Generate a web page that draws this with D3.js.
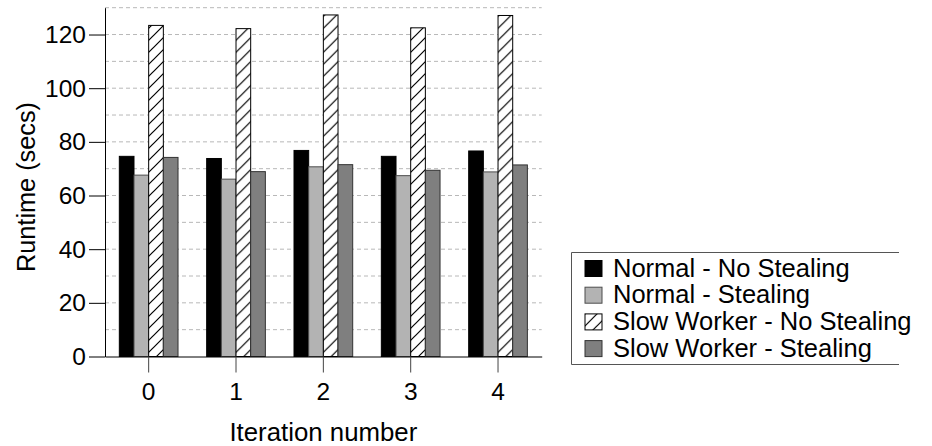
<!DOCTYPE html>
<html>
<head>
<meta charset="utf-8">
<script src="https://cdn.jsdelivr.net/npm/d3@7"></script>
<style>
  html, body { margin: 0; padding: 0; background: #fff; }
  svg { display: block; font-family: "Liberation Sans", Arial, Helvetica, sans-serif; }
  .grid line { stroke: #b8b8b8; stroke-dasharray: 4,3; }
</style>
</head>
<body>
<svg id="chart" width="932" height="446"></svg>
<script>
// Runtime per iteration, four configurations
const iterations = ["0", "1", "2", "3", "4"];
const seriesNames = [
  "Normal - No Stealing",
  "Normal - Stealing",
  "Slow Worker - No Stealing",
  "Slow Worker - Stealing",
];
const normalNoSteal = [74.6, 73.8, 76.8, 74.6, 76.6];
const normalSteal   = [67.6, 66.1, 70.7, 67.4, 68.8];
const slowNoSteal   = [123.4, 122.2, 127.3, 122.5, 127.1];
const slowSteal     = [74.2, 68.9, 71.5, 69.4, 71.4];
const yTicks = [0, 20, 40, 60, 80, 100, 120];

const values = [normalNoSteal, normalSteal, slowNoSteal, slowSteal];
const fills = ["#000000", "#b3b3b3", "url(#hatch)", "#7f7f7f"];
const strokes = ["#000", "#4d4d4d", "#000", "#333"];

const svg = d3.select("#chart");
const M = { left: 105, right: 932 - 541.7, top: 7.7, bottom: 446 - 356.5 };
const FONT = "'Liberation Sans', Arial, Helvetica, sans-serif";

// hatch pattern ///
const defs = svg.append("defs");
const pat = defs.append("pattern").attr("id", "hatch")
  .attr("patternUnits", "userSpaceOnUse").attr("width", 12).attr("height", 12);
pat.append("rect").attr("width", 12).attr("height", 12).attr("fill", "#fff");
pat.append("path").attr("d", "M0,12L12,0M-3,3L3,-3M9,15L15,9")
  .attr("stroke", "#000").attr("stroke-width", 1.2);

const x0 = d3.scaleBand().domain(iterations).range([M.left, 932 - M.right]);
const groupW = x0.bandwidth() * 0.672;
const x1 = d3.scaleBand().domain(d3.range(4))
  .range([(x0.bandwidth() - groupW) / 2, (x0.bandwidth() + groupW) / 2]);
const y = d3.scaleLinear().domain([0, 130]).range([446 - M.bottom, M.top]);

// dashed gridlines every 10
svg.append("g").attr("class", "grid")
  .selectAll("line").data(d3.range(10, 131, 10)).join("line")
  .attr("x1", M.left).attr("x2", 932 - M.right)
  .attr("y1", (d) => y(d)).attr("y2", (d) => y(d));

// bars
const groups = svg.append("g").selectAll("g").data(iterations).join("g")
  .attr("transform", (d) => `translate(${x0(d)},0)`);
groups.selectAll("rect")
  .data((d, i) => values.map((s, k) => ({ k, v: s[i] })))
  .join("rect")
  .attr("x", (d) => x1(d.k))
  .attr("width", x1.bandwidth())
  .attr("y", (d) => y(d.v))
  .attr("height", (d) => y(0) - y(d.v))
  .attr("fill", (d) => fills[d.k])
  .attr("stroke", (d) => strokes[d.k])
  .attr("stroke-width", 1);

// axes
const yAx = svg.append("g")
  .attr("transform", `translate(${M.left},0)`)
  .call(d3.axisLeft(y).tickValues(yTicks).tickSize(16).tickPadding(3).tickSizeOuter(0))
  .attr("font-family", FONT).attr("font-size", 24.5);
const xAx = svg.append("g")
  .attr("transform", `translate(0,${y(0)})`)
  .call(d3.axisBottom(x0).tickSize(16).tickPadding(10.5).tickSizeOuter(0))
  .attr("font-family", FONT).attr("font-size", 24.5);
svg.selectAll(".domain").attr("stroke", "#000");
yAx.selectAll(".tick line").attr("stroke", "#000");
xAx.selectAll(".tick line").attr("stroke", "#444");
svg.selectAll(".tick text").attr("fill", "#000");

// axis titles
svg.append("text").attr("x", (M.left + 932 - M.right) / 2).attr("y", 441)
  .attr("text-anchor", "middle").attr("font-size", 25.8).text("Iteration number");
svg.append("text").attr("transform", "translate(34.5,187) rotate(-90)")
  .attr("text-anchor", "middle").attr("font-size", 25.3).text("Runtime (secs)");

// legend (frame right edge hidden under the overflowing labels in the original)
const lg = svg.append("g");
lg.append("path").attr("d", "M899,252.5H571.5V364.5H899")
  .attr("fill", "none").attr("stroke", "#555").attr("stroke-width", 1);
const items = lg.selectAll("g.item").data(seriesNames).join("g")
  .attr("transform", (d, i) => `translate(585,${260.5 + i * 26.7})`);
items.append("rect").attr("width", 17).attr("height", 16)
  .attr("fill", (d, i) => fills[i]).attr("stroke", (d, i) => strokes[i]);
items.append("text").attr("x", 28).attr("y", 16).attr("font-size", 25.5)
  .text((d) => d);
</script>
</body>
</html>
